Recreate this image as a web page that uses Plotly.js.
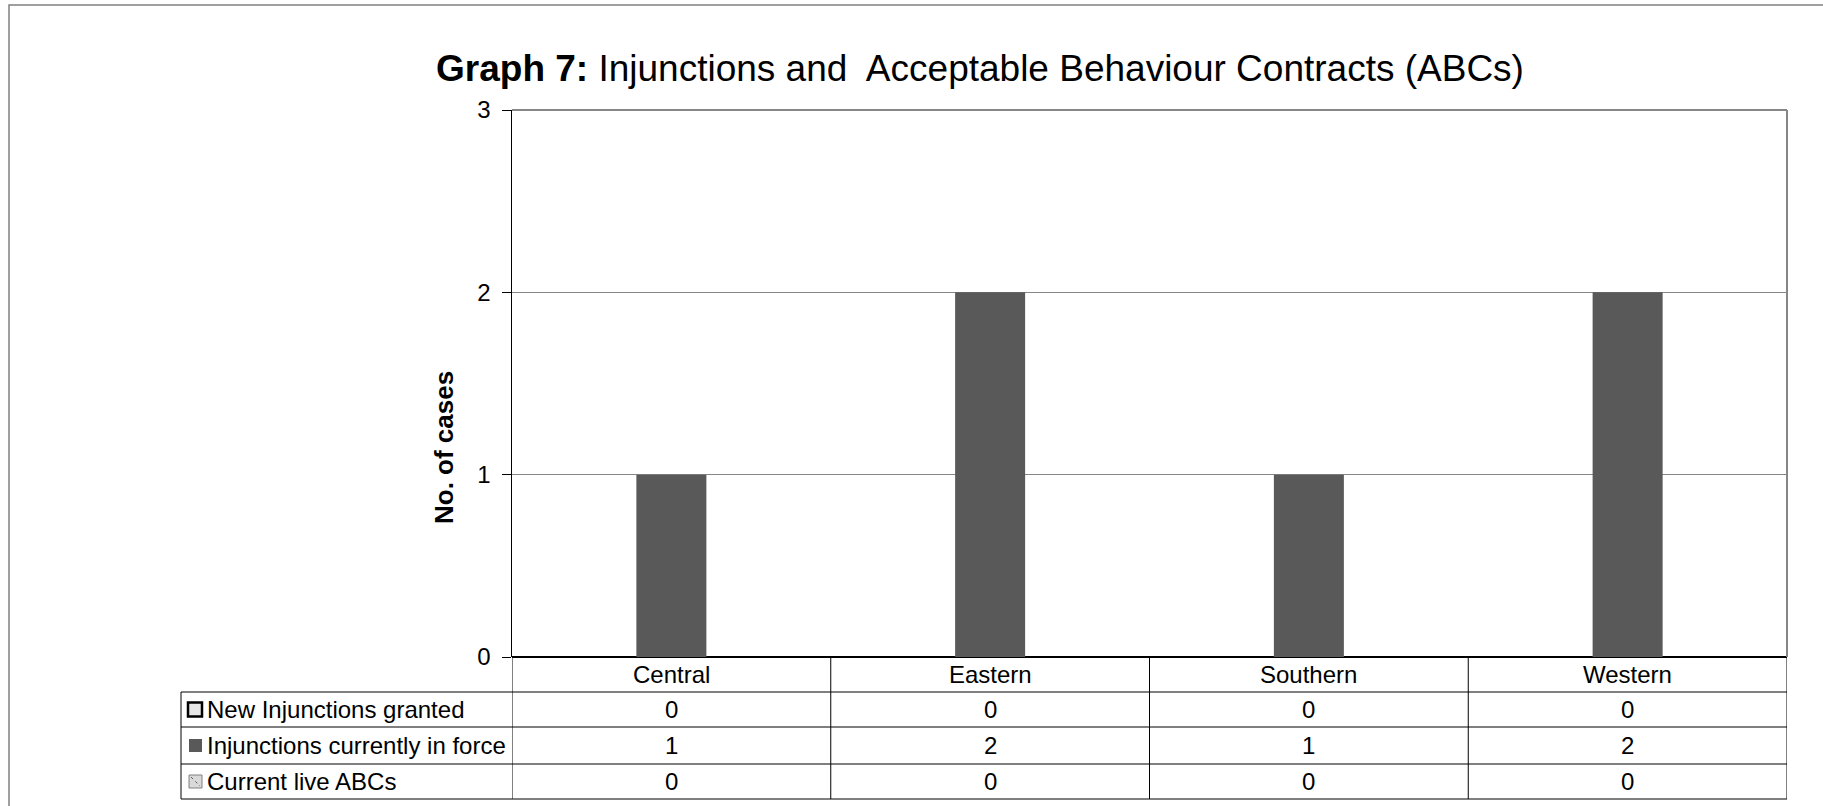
<!DOCTYPE html>
<html>
<head>
<meta charset="utf-8">
<script src="https://cdn.plot.ly/plotly-3.0.1.min.js"></script>
<style>
  html, body { margin: 0; padding: 0; background: #ffffff; }
  #chart { width: 1823px; height: 806px; }
</style>
</head>
<body>
<div id="chart"></div>
<script>
// ---- Data ----
const categories = ["Central", "Eastern", "Southern", "Western"];
const seriesNames = ["New Injunctions granted", "Injunctions currently in force", "Current live ABCs"];
const newInjunctions = [0, 0, 0, 0];
const injunctionsInForce = [1, 2, 1, 2];
const liveABCs = [0, 0, 0, 0];
const yTickVals = [0, 1, 2, 3];
const yTickText = ["0", "1", "2", "3"];

// ---- Layout geometry (pixels) ----
const W = 1823, H = 806;
const PL = 512, PR = 1787, PT = 110, PB = 657;
const PW = PR - PL, PH = PB - PT;
const px = v => (v - PL) / PW;          // pixel x -> paper x
const py = v => (PB - v) / PH;          // pixel y -> paper y

const FONT = '"Liberation Sans", Arial, sans-serif';
const barColor = '#595959';
const gridColor = '#868686';

const seriesValues = [newInjunctions, injunctionsInForce, liveABCs];
const seriesFill = ['#ffffff', barColor, '#d9d9d9'];

const traces = seriesValues.map((vals, i) => ({
  type: 'bar',
  name: seriesNames[i],
  x: categories,
  y: vals,
  marker: { color: seriesFill[i], line: { width: 0 } },
  hoverinfo: 'skip',
  showlegend: false
}));

// ---- Table rows (pixel y bounds) ----
const headerTop = PB, headerBot = 692;
const rowBounds = [[692, 727], [727, 764], [764, 799]];
const tableLeft = 181;

const shapes = [];
const annotations = [];
const blackLine = { color: '#000000', width: 1 };

// outer chart border
shapes.push({ type: 'rect', xref: 'paper', yref: 'paper',
  x0: px(9), x1: px(1840), y0: py(5), y1: py(830),
  line: { color: '#808080', width: 1.5 }, fillcolor: 'rgba(0,0,0,0)', layer: 'below' });

// plot area top and right border (gray)
shapes.push({ type: 'line', xref: 'paper', yref: 'paper', x0: 0, x1: 1, y0: 1, y1: 1,
  line: { color: gridColor, width: 2 } });
shapes.push({ type: 'line', xref: 'paper', yref: 'paper', x0: 1, x1: 1, y0: 0, y1: 1,
  line: { color: gridColor, width: 2 } });

// header row: vertical column separators (category boundaries)
for (let k = 0; k <= categories.length; k++) {
  shapes.push({ type: 'line', xref: 'x', yref: 'paper',
    x0: k - 0.5, x1: k - 0.5, y0: py(headerTop), y1: py(rowBounds[2][1]),
    line: blackLine });
}
// horizontal lines across table
[rowBounds[0][0], rowBounds[1][0], rowBounds[2][0], rowBounds[2][1]].forEach(yy => {
  shapes.push({ type: 'line', xref: 'paper', yref: 'paper',
    x0: px(tableLeft), x1: 1, y0: py(yy), y1: py(yy), line: blackLine });
});
// left border of legend column
shapes.push({ type: 'line', xref: 'paper', yref: 'paper',
  x0: px(tableLeft), x1: px(tableLeft), y0: py(rowBounds[0][0]), y1: py(rowBounds[2][1]),
  line: blackLine });

const TABLE_FONT = 24;
// header category labels
categories.forEach((c, k) => {
  annotations.push({ xref: 'x', yref: 'paper', x: k, y: py((headerTop + headerBot) / 2),
    text: c, showarrow: false, xanchor: 'center', yanchor: 'middle',
    font: { family: FONT, size: TABLE_FONT, color: '#000' } });
});

// row values and legend labels
seriesValues.forEach((vals, r) => {
  const yc = py((rowBounds[r][0] + rowBounds[r][1]) / 2);
  vals.forEach((v, k) => {
    annotations.push({ xref: 'x', yref: 'paper', x: k, y: yc, text: String(v),
      showarrow: false, xanchor: 'center', yanchor: 'middle',
      font: { family: FONT, size: TABLE_FONT, color: '#000' } });
  });
  annotations.push({ xref: 'paper', yref: 'paper', x: px(205), y: yc, text: seriesNames[r],
    showarrow: false, xanchor: 'left', yanchor: 'middle',
    font: { family: FONT, size: TABLE_FONT, color: '#000' } });
});

// y-axis title (placed as in the reference, below the plot-area centre)
annotations.push({ xref: 'paper', yref: 'paper', x: px(444), y: py(448),
  text: '<b>No. of cases</b>', textangle: -90, showarrow: false,
  xanchor: 'center', yanchor: 'middle',
  font: { family: FONT, size: 26, color: '#000' } });

// legend keys
const keyY = r => (rowBounds[r][0] + rowBounds[r][1]) / 2;
shapes.push({ type: 'rect', xref: 'paper', yref: 'paper',
  x0: px(188), x1: px(202), y0: py(keyY(0) - 7), y1: py(keyY(0) + 7),
  fillcolor: '#e6e6e6', line: { color: '#000', width: 2.5 } });
shapes.push({ type: 'rect', xref: 'paper', yref: 'paper',
  x0: px(189), x1: px(202), y0: py(keyY(1) - 6.5), y1: py(keyY(1) + 6.5),
  fillcolor: barColor, line: { width: 0 } });
shapes.push({ type: 'rect', xref: 'paper', yref: 'paper',
  x0: px(189), x1: px(202), y0: py(keyY(2) - 6.5), y1: py(keyY(2) + 6.5),
  fillcolor: '#d9d9d9', line: { color: '#808080', width: 1 } });
shapes.push({ type: 'line', xref: 'paper', yref: 'paper',
  x0: px(191), x1: px(200), y0: py(keyY(2) - 4.5), y1: py(keyY(2) + 4.5),
  line: { color: '#606060', width: 1, dash: 'dot' } });

const layout = {
  width: W, height: H,
  margin: { l: PL, r: W - PR, t: PT, b: H - PB, pad: 0 },
  paper_bgcolor: '#ffffff', plot_bgcolor: '#ffffff',
  font: { family: FONT, color: '#000' },
  title: {
    text: '<b>Graph 7:</b> Injunctions and&nbsp; Acceptable Behaviour Contracts (ABCs)',
    font: { family: FONT, size: 37, color: '#000' },
    x: 980 / W, xanchor: 'center', xref: 'container',
    y: 1 - 68 / H, yanchor: 'middle', yref: 'container'
  },
  barmode: 'group', bargap: 0.341, bargroupgap: 0,
  showlegend: false,
  xaxis: {
    type: 'category', range: [-0.5, 3.5], showticklabels: false,
    showgrid: false, zeroline: false, showline: false, ticks: '', fixedrange: true
  },
  yaxis: {
    range: [0, 3], tickvals: yTickVals, ticktext: yTickText,
    showgrid: true, gridcolor: gridColor, gridwidth: 1,
    zeroline: true, zerolinecolor: '#000', zerolinewidth: 2,
    showline: true, linecolor: '#000', linewidth: 1.5,
    ticks: 'outside', ticklen: 9, tickcolor: '#000', tickwidth: 1,
    ticklabelstandoff: 6,
    tickfont: { family: FONT, size: 24, color: '#000' },
    fixedrange: true
  },
  shapes: shapes,
  annotations: annotations
};

Plotly.newPlot('chart', traces, layout, { displayModeBar: false, staticPlot: true });
</script>
</body>
</html>
